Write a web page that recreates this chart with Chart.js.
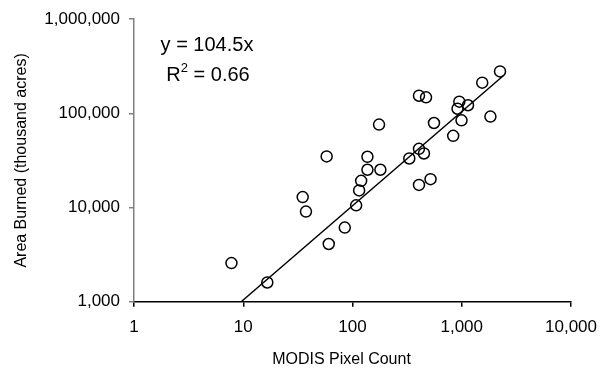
<!DOCTYPE html>
<html lang="en">
<head>
  <meta charset="UTF-8" />
  <title>MODIS Pixel Count vs Area Burned</title>
  <style>
    body {
      margin: 0;
      background: #fff;
    }
    #wrap {
      width: 608px;
      height: 370px;
    }
  </style>
  <script src="https://cdn.jsdelivr.net/npm/chart.js"></script>
</head>
<body>
  <div id="wrap">
    <canvas id="fireChart" width="608" height="370"></canvas>
  </div>

  <script>
    // values (log-log axes)
    const pixelCount = [7.8, 16.6, 35, 37.5, 58, 60.6, 85, 108, 115, 120,
                        137, 137, 175, 180, 331, 406, 471, 406, 451, 406,
                        518, 557, 835, 915, 950, 995, 1141, 1540, 1830, 2240];
    const areaBurned = [2570, 1600, 12900, 9050, 34900, 4100, 6130, 10550, 15200, 19200,
                        34600, 25200, 76000, 25200, 33200, 154000, 148000, 42000, 37500, 17400,
                        20000, 79000, 57700, 112000, 133000, 84400, 122000, 212000, 92400, 279000];

    // trendline y = 104.5x, ends as drawn
    const trendX = [9.57, 2400];
    const trendY = [1000, 250800];

    const xTicks = [1, 10, 100, 1000, 10000];
    const yTicks = [1000, 10000, 100000, 1000000];

    const eqLine = "y = 104.5x";
    const rLine = ["R", "2", " = 0.66"];
    const xTitle = "MODIS Pixel Count";
    const yTitle = "Area Burned (thousand acres)";

    const FONT = "'Liberation Sans', Arial, sans-serif";

    const fmt = v => Number(v).toLocaleString("en-US");

    const points = pixelCount.map((x, i) => ({ x: x, y: areaBurned[i] }));
    const trend = trendX.map((x, i) => ({ x: x, y: trendY[i] }));

    // equation text and x title
    const textPlugin = {
      id: "textPlugin",
      afterDraw(chart) {
        const ctx = chart.ctx;
        const area = chart.chartArea;
        ctx.save();
        ctx.fillStyle = "#000";
        ctx.textBaseline = "middle";

        ctx.font = "20px " + FONT;
        ctx.textAlign = "center";
        ctx.fillText(eqLine, 207, 45);

        // R^2 line with superscript
        const bigW1 = ctx.measureText(rLine[0]).width;
        const bigW2 = ctx.measureText(rLine[2]).width;
        ctx.font = "13px " + FONT;
        const supW = ctx.measureText(rLine[1]).width;
        let x = 208 - (bigW1 + supW + bigW2) / 2;
        ctx.textAlign = "left";
        ctx.font = "20px " + FONT;
        ctx.fillText(rLine[0], x, 75);
        x += bigW1;
        ctx.font = "13px " + FONT;
        ctx.fillText(rLine[1], x, 68);
        x += supW;
        ctx.font = "20px " + FONT;
        ctx.fillText(rLine[2], x, 75);

        ctx.font = "16px " + FONT;
        ctx.textAlign = "center";
        ctx.fillText(xTitle, (area.left + area.right) / 2 - 11, 360);
        ctx.restore();
      }
    };

    const ctx = document.getElementById("fireChart").getContext("2d");
    new Chart(ctx, {
      data: {
        datasets: [
          {
            type: "scatter",
            data: points,
            pointStyle: "circle",
            pointRadius: 5.5,
            pointHoverRadius: 5.5,
            borderColor: "#000",
            backgroundColor: "rgba(0,0,0,0)",
            borderWidth: 1.5
          },
          {
            type: "line",
            data: trend,
            borderColor: "#000",
            borderWidth: 1.5,
            pointRadius: 0,
            fill: false,
            tension: 0
          }
        ]
      },
      options: {
        responsive: false,
        animation: false,
        events: [],
        layout: {
          padding: { left: 0, top: 18, right: 37, bottom: 0 }
        },
        plugins: {
          legend: { display: false },
          tooltip: { enabled: false }
        },
        scales: {
          x: {
            type: "logarithmic",
            min: 1,
            max: 10000,
            afterBuildTicks: s => { s.ticks = xTicks.map(v => ({ value: v })); },
            afterFit: s => { s.height = 68.3; },
            grid: {
              drawOnChartArea: false,
              drawTicks: true,
              tickLength: 5,
              color: "#000",
              lineWidth: 1.5
            },
            border: { display: true, color: "#000", width: 1.5 },
            ticks: {
              color: "#000",
              padding: 10,
              maxRotation: 0,
              autoSkip: false,
              font: { family: FONT, size: 17 },
              callback: v => fmt(v)
            }
          },
          y: {
            type: "logarithmic",
            min: 1000,
            max: 1000000,
            afterBuildTicks: s => { s.ticks = yTicks.map(v => ({ value: v })); },
            afterFit: s => { s.width = 134; },
            grid: {
              drawOnChartArea: false,
              drawTicks: true,
              tickLength: 5,
              color: "#808080",
              lineWidth: 1.5
            },
            border: { display: true, color: "#808080", width: 1.5 },
            ticks: {
              color: "#000",
              padding: 9,
              autoSkip: false,
              font: { family: FONT, size: 17 },
              callback: v => fmt(v)
            },
            title: {
              display: true,
              text: yTitle,
              color: "#000",
              padding: { top: 12, bottom: 0 },
              font: { family: FONT, size: 16 }
            }
          }
        }
      },
      plugins: [textPlugin]
    });
  </script>
</body>
</html>
